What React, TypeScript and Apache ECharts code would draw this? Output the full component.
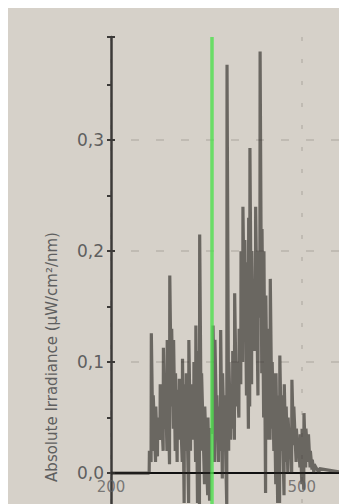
import React, { useEffect, useRef } from "react";
import * as echarts from "echarts";

// Spectrum: each spike has a wavelength, a top and a bottom value
const spikeNm = [
  200, 256, 260, 263, 266, 270, 273, 277, 282, 285, 288, 292, 295, 298, 301, 304, 307, 312,
  315, 318, 322, 325, 330, 333, 336, 339, 342, 347, 352, 355, 360, 363, 366, 369, 372, 375,
  378, 382, 385, 388, 391, 394, 397, 401, 404, 407, 410, 413, 416, 418, 421, 424, 427, 431,
  434, 437, 440, 443, 446, 450, 453, 456, 459, 462, 465, 468, 472, 475, 478, 481, 484, 487,
  491, 494, 497, 500, 503, 506, 510, 513, 516, 519, 527, 571,
];
const spikeTop = [
  0, 0, 0.02, 0.126, 0.07, 0.06, 0.05, 0.08, 0.113, 0.09, 0.12, 0.178, 0.13, 0.12, 0.09, 0.075,
  0.085, 0.103, 0.08, 0.09, 0.12, 0.08, 0.1, 0.133, 0.11, 0.215, 0.09, 0.06, 0.05, 0.04, 0.133,
  0.12, 0.07, 0.06, 0.129, 0.09, 0.07, 0.368, 0.1, 0.08, 0.11, 0.162, 0.1, 0.13, 0.2, 0.24, 0.21,
  0.19, 0.23, 0.293, 0.2, 0.17, 0.24, 0.2, 0.38, 0.22, 0.2, 0.16, 0.13, 0.175, 0.1, 0.09, 0.09,
  0.07, 0.106, 0.07, 0.08, 0.06, 0.05, 0.04, 0.084, 0.06, 0.04, 0.03, 0.035, 0.04, 0.054, 0.04,
  0.035, 0.02, 0.012, 0.008, 0.004, 0,
];
const spikeBottom = [
  0, 0, 0, 0.01, 0.02, 0.01, 0.015, 0.03, 0.02, 0.04, 0.02, 0.008, 0.06, 0.04, 0.02, 0.01, 0.03,
  0.01, -0.027, 0.02, -0.027, 0.02, 0.03, 0.01, -0.027, -0.03, 0.02, -0.01, -0.02, -0.025, 0.036,
  0.01, 0.04, 0.01, 0.02, -0.005, 0.025, -0.03, 0.02, 0.03, 0.04, 0.03, 0.06, 0.05, 0.08, 0.1,
  0.12, 0.07, 0.04, 0.06, 0.08, 0.11, 0.11, 0.07, 0.14, 0.09, 0.05, -0.018, 0.03, 0.03, 0.04,
  0.02, -0.01, -0.027, -0.027, 0.02, -0.02, 0.01, 0, 0.015, 0, 0.025, 0.01, 0.015, 0.005, -0.01,
  -0.015, 0.005, 0.01, 0.005, 0.003, 0, 0, 0,
];
const markerNm = 359;
const yTickLabels = ["0,0", "0,1", "0,2", "0,3"];
const xTickValues = [200, 500];

export default function App() {
  const ref = useRef<HTMLDivElement>(null);
  useEffect(() => {
    if (!ref.current) return;
    const chart = echarts.init(ref.current, undefined, { renderer: "svg" });
    const data: [number, number][] = [];
    spikeNm.forEach((nm, i) => {
      data.push([nm, spikeBottom[i]]);
      data.push([nm + 0.4, spikeTop[i]]);
    });
    const labelFont = { fontFamily: "DejaVu Sans", fontSize: 17, color: "#5f5f5f" };
    const yFmt = (v: number) => {
      const idx = Math.round(v * 10);
      if (Math.abs(v * 10 - idx) > 1e-6 || idx < 0 || idx >= yTickLabels.length) return "";
      return yTickLabels[idx];
    };
    const yCommon = { type: "value", min: -0.1, max: 0.393, interval: 0.1 };
    chart.setOption({
      animation: false,
      backgroundColor: "#d6d1c9",
      grid: {
        left: 103,
        top: 29,
        right: 0,
        bottom: 0,
        containLabel: false,
        outerBoundsMode: "none",
      },
      xAxis: {
        type: "value",
        min: 200,
        max: 571,
        interval: 300,
        axisLine: { onZero: true, lineStyle: { color: "#111", width: 2 } },
        axisTick: { show: false },
        axisLabel: { show: false },
        splitLine: {
          show: true,
          showMaxLine: false,
          lineStyle: { color: "#b9b4ac", type: [4, 18], width: 1.5 },
        },
      },
      yAxis: [
        {
          ...yCommon,
          axisLine: { show: true, onZero: false, lineStyle: { color: "#3c3a38", width: 2.5 } },
          axisTick: { show: true, length: 4, lineStyle: { color: "#3c3a38", width: 2 } },
          minorTick: { show: true, splitNumber: 2, length: 4, lineStyle: { color: "#3c3a38", width: 2 } },
          axisLabel: { ...labelFont, margin: 7, formatter: yFmt },
          splitLine: {
            show: true,
            showMaxLine: false,
            lineStyle: { color: "#b9b4ac", type: [8, 17], dashOffset: -20, width: 1.5 },
          },
        },
        {
          ...yCommon,
          position: "left",
          axisLine: { show: false },
          axisTick: { show: true, inside: true, length: 4, lineStyle: { color: "#3c3a38", width: 2 } },
          minorTick: { show: false },
          axisLabel: { show: false },
          splitLine: { show: false },
        },
      ],
      graphic: [
        {
          type: "text",
          x: 44,
          y: 349,
          rotation: Math.PI / 2,
          style: {
            text: "Absolute Irradiance (µW/cm²/nm)",
            fontFamily: "DejaVu Sans",
            fontSize: 15,
            fill: "#5f5f5f",
            textAlign: "center",
            textVerticalAlign: "middle",
          },
        },
      ],
      series: [
        {
          type: "line",
          data,
          showSymbol: false,
          symbol: "none",
          lineStyle: { color: "rgba(40,37,34,0.62)", width: 3.2 },
          z: 3,
        },
        {
          type: "line",
          data: [],
          z: 5,
          markLine: {
            silent: true,
            symbol: "none",
            label: { show: false },
            lineStyle: { color: "#4fe04f", width: 3.5, type: "solid", opacity: 0.8 },
            data: [{ xAxis: markerNm }],
          },
        },
        {
          type: "scatter",
          data: xTickValues.map((v) => [v, 0]),
          symbolSize: 0,
          silent: true,
          z: 6,
          label: {
            show: true,
            position: "bottom",
            distance: 6,
            formatter: (p: any) => String(p.value[0]),
            fontFamily: "DejaVu Sans",
            fontSize: 15,
            color: "#5f5f5f",
          },
        },
      ],
    });
    return () => chart.dispose();
  }, []);
  return <div ref={ref} style={{ width: 339, height: 576 }} />;
}
